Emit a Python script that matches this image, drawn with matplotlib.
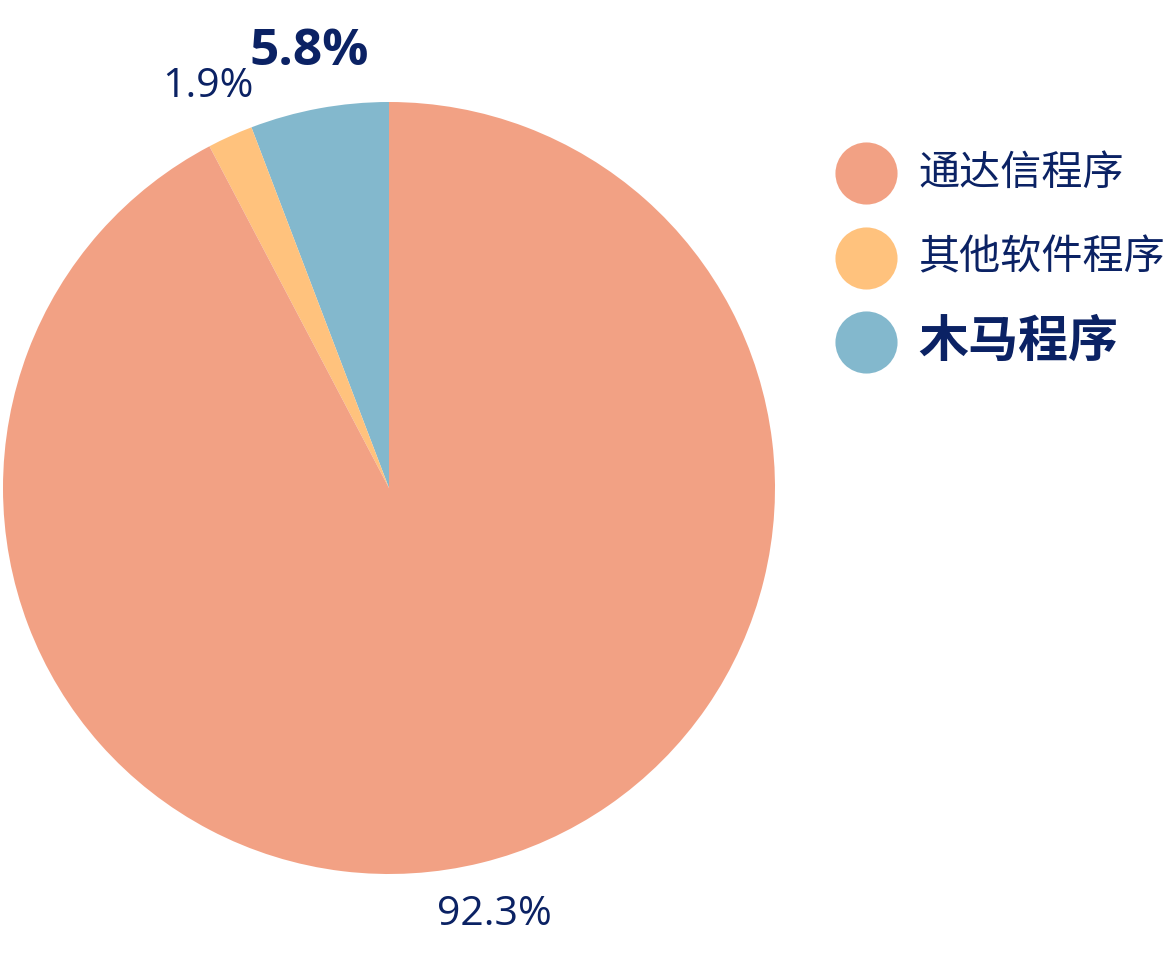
import matplotlib
matplotlib.use('Agg')
from matplotlib import pyplot as plt

labels = ['通达信程序', '其他软件程序', '木马程序']
values = [92.3, 1.9, 5.8]
colors = ['#F2A184', '#FFC27D', '#83B8CD']
bold = [False, False, True]

text_color = '#0B2264'
plt.rcParams['font.family'] = ['Open Sans', 'Noto Sans CJK SC', 'DejaVu Sans']

fig = plt.figure(figsize=(11.75, 9.59), dpi=100)
ax = fig.add_axes([0, 0, 1, 1])

# draw in reverse so blue sits right after 12 o'clock, going counter-clockwise
wedges, texts, autotexts = ax.pie(
    values[::-1], colors=colors[::-1], startangle=90, counterclock=True,
    center=(389, 471), radius=386, autopct='%.1f%%', pctdistance=1.14,
    textprops=dict(color=text_color, fontsize=29.5),
    wedgeprops=dict(linewidth=0), frame=True)
ax.set_xlim(0, 1175)
ax.set_ylim(0, 959)
ax.set_aspect('equal')
ax.axis('off')
for t, b in zip(autotexts, bold[::-1]):
    if b:
        t.set_fontweight('bold')
        t.set_fontsize(37)
        x, y = t.get_position()
        t.set_position((x, y + 3))

# legend
for i, (lab, c, b) in enumerate(zip(labels, colors, bold)):
    y = 959 - (173 + i * 84.5)
    ax.scatter([866], [y], s=2000, color=c, linewidths=0)
    ax.text(918, y, lab, fontsize=36 if b else 29.6, color=text_color,
            va='center', ha='left', fontweight='bold' if b else 'normal',
            family=['Noto Sans CJK SC', 'DejaVu Sans'])

plt.savefig('out.png', dpi=100)
